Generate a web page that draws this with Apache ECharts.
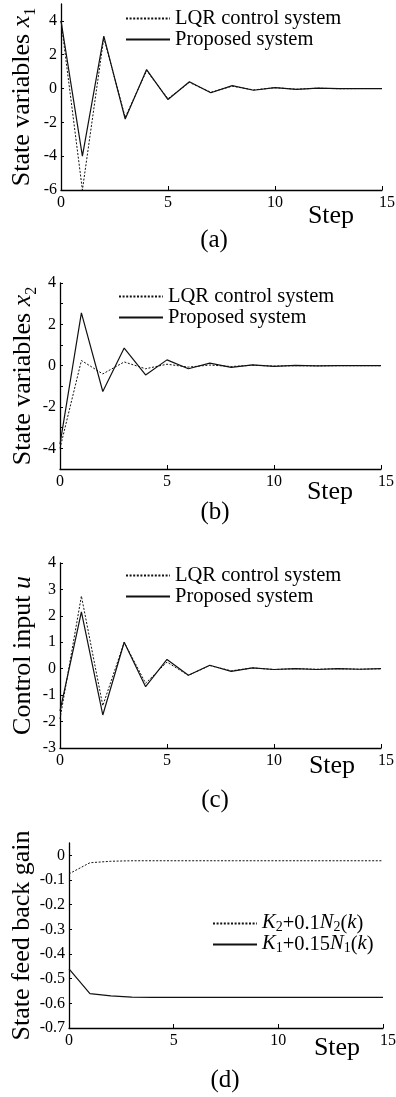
<!DOCTYPE html>
<html>
<head>
<meta charset="utf-8">
<script src="https://cdn.jsdelivr.net/npm/echarts@6/dist/echarts.min.js"></script>
<style>
html,body{margin:0;padding:0;background:#fff;}
#chart{width:396px;height:1097px;}
</style>
</head>
<body>
<div id="chart"></div>
<script>
// ---- data ----
const steps = [0,1,2,3,4,5,6,7,8,9,10,11,12,13,14,15];
const seriesNames = ['LQR control system', 'Proposed system'];
const gainNames = ['K2+0.1N2(k)', 'K1+0.15N1(k)'];

const x1LQR  = [4, -6, 3.0, -1.7, 1.05, -0.6, 0.36, -0.22, 0.14, -0.08, 0.05, -0.04, 0.02, -0.01, 0, 0];
const x1Prop = [4, -4, 3.1, -1.8, 1.12, -0.65, 0.4, -0.25, 0.17, -0.1, 0.06, -0.05, 0.02, -0.01, 0, 0];

const x2LQR  = [-4.0, 0.25, -0.4, 0.18, -0.15, 0.07, -0.07, 0.03, -0.04, 0.02, -0.02, 0, -0.01, 0, 0, 0];
const x2Prop = [-3.8, 2.55, -1.25, 0.85, -0.45, 0.28, -0.15, 0.12, -0.08, 0.04, -0.03, 0.01, -0.01, 0, 0, 0];

const uLQR  = [-1.9, 2.75, -1.4, 1.0, -0.55, 0.25, -0.25, 0.12, -0.08, 0.03, -0.03, 0, -0.02, 0, -0.02, 0];
const uProp = [-1.6, 2.15, -1.75, 1.0, -0.68, 0.35, -0.25, 0.13, -0.1, 0.03, -0.03, 0, -0.03, 0, -0.02, 0];

const gainK2 = [-0.075, -0.03, -0.024, -0.022, -0.022, -0.022, -0.022, -0.022, -0.022, -0.022, -0.022, -0.022, -0.022, -0.022, -0.022, -0.022];
const gainK1 = [-0.46, -0.561, -0.57, -0.575, -0.576, -0.576, -0.576, -0.576, -0.576, -0.576, -0.576, -0.576, -0.576, -0.576, -0.576, -0.576];

const yNames = ['{txt|State variables }{it|x}{sb|1}', '{txt|State variables }{it|x}{sb|2}', '{txt|Control input }{it|u}', '{txt|State feed back gain}'];
const panelLabels = ['(a)', '(b)', '(c)', '(d)'];
const xLabelName = 'Step';

// ---- layout / style ----
const FONT = "'Liberation Serif', 'Times New Roman', serif";
const grids = [
  {left: 61, top: 4, width: 321, height: 186},
  {left: 60, top: 283, width: 321, height: 186},
  {left: 60, top: 563, width: 321, height: 185},
  {left: 69, top: 843, width: 314, height: 185}
];
const yRanges = [
  {min: -6, max: 5, interval: 2, showMax: false, showMin: true, gap: 22},
  {min: -5, max: 4, interval: 1, showMax: true, showMin: false, gap: 20, every2: true},
  {min: -3, max: 4, interval: 1, showMax: true, showMin: true, gap: 20},
  {min: -0.7, max: 0.05, interval: 0.1, showMax: false, showMin: true, gap: 30}
];
const legendPos = [
  {left: 125, top: 8},
  {left: 118, top: 286},
  {left: 125, top: 565},
  {left: 212, top: 913}
];
const stepPos = [[331, 216], [330, 492], [332, 766], [337, 1048]];
const letterPos = [[214, 240], [215, 512], [215, 800], [225, 1080]];

const nameRich = {
  txt: {fontFamily: FONT, fontSize: 26, color: '#000', lineHeight: 30, verticalAlign: 'top'},
  it: {fontFamily: FONT, fontSize: 26, fontStyle: 'italic', color: '#000', lineHeight: 30, verticalAlign: 'top'},
  sb: {fontFamily: FONT, fontSize: 16, color: '#000', lineHeight: 14, verticalAlign: 'bottom'}
};
const legRich = {
  txt: {fontFamily: FONT, fontSize: 20.5, color: '#000', lineHeight: 21, verticalAlign: 'top'},
  it: {fontFamily: FONT, fontSize: 20.5, fontStyle: 'italic', color: '#000', lineHeight: 21, verticalAlign: 'top'},
  sb: {fontFamily: FONT, fontSize: 14, color: '#000', lineHeight: 12, verticalAlign: 'bottom'}
};
const xLabRich = {
  last: {fontFamily: FONT, fontSize: 16, color: '#000', padding: [0, 0, 4, 10]}
};

function gainLabel(name) {
  if (name === gainNames[0]) return '{it|K}{sb|2}{txt|+0.1}{it|N}{sb|2}{txt|(}{it|k}{txt|)}';
  if (name === gainNames[1]) return '{it|K}{sb|1}{txt|+0.15}{it|N}{sb|1}{txt|(}{it|k}{txt|)}';
  return name;
}

const xAxes = grids.map((g, i) => ({
  type: 'value', gridIndex: i, min: 0, max: 15, interval: 5,
  axisLine: {show: true, onZero: false, lineStyle: {color: '#000', width: 1.3}},
  axisTick: {show: true, inside: true, length: 4, lineStyle: {color: '#000'}},
  axisLabel: {
    color: '#000', fontFamily: FONT, fontSize: 16, margin: 5, rich: xLabRich,
    formatter: function (v) { return v === 15 ? '{last|15}' : String(v); }
  },
  splitLine: {show: false}
}));

const yAxes = yRanges.map((r, i) => ({
  type: 'value', gridIndex: i, min: r.min, max: r.max, interval: r.interval,
  name: yNames[i], nameLocation: 'middle', nameGap: r.gap, nameRotate: 90,
  nameMoveOverlap: false,
  nameTextStyle: {fontFamily: FONT, fontSize: 26, color: '#000', rich: nameRich},
  axisLine: {show: true, onZero: false, lineStyle: {color: '#000', width: 1.3}},
  axisTick: {show: true, inside: true, length: 3, lineStyle: {color: '#000'}},
  axisLabel: {
    color: '#000', fontFamily: FONT, fontSize: 16, margin: 4,
    showMaxLabel: r.showMax, showMinLabel: r.showMin,
    formatter: function (v) {
      if (r.every2 && Math.round(v) % 2 !== 0) return '';
      return String(+v.toFixed(2));
    }
  },
  splitLine: {show: false}
}));

const dotted = {color: '#111', width: 1, type: [2, 1.6]};
const solid = {color: '#111', width: 1.2, type: 'solid'};

function pairs(arr) { return steps.map((s, k) => [s, arr[k]]); }

const seriesData = [
  [x1LQR, x1Prop], [x2LQR, x2Prop], [uLQR, uProp], [gainK2, gainK1]
];
const series = [];
seriesData.forEach((pair, i) => {
  const names = i === 3 ? gainNames : seriesNames;
  series.push({type: 'line', name: names[0], xAxisIndex: i, yAxisIndex: i, data: pairs(pair[0]),
    symbol: 'none', color: '#111', lineStyle: dotted, silent: true, animation: false, z: 2});
  series.push({type: 'line', name: names[1], xAxisIndex: i, yAxisIndex: i, data: pairs(pair[1]),
    symbol: 'none', color: '#111', lineStyle: solid, silent: true, animation: false, z: 3});
});

const legends = legendPos.map((p, i) => ({
  left: p.left, top: p.top, orient: 'vertical', padding: 0, itemGap: 0,
  itemWidth: 44, itemHeight: 10, selectedMode: false,
  itemStyle: {opacity: 0},
  data: i === 3 ? gainNames : seriesNames,
  formatter: i === 3 ? gainLabel : function (n) { return '{txt|' + n + '}'; },
  textStyle: {fontFamily: FONT, fontSize: 20.5, color: '#000', padding: [0, 0, 0, 0], rich: legRich}
}));

const graphics = [];
stepPos.forEach(p => graphics.push({type: 'text', silent: true, style: {text: xLabelName, x: p[0], y: p[1], align: 'center', verticalAlign: 'middle', font: '26px "Liberation Serif", serif', fill: '#000'}}));
letterPos.forEach((p, i) => graphics.push({type: 'text', silent: true, style: {text: panelLabels[i], x: p[0], y: p[1], align: 'center', verticalAlign: 'middle', font: '25px "Liberation Serif", serif', fill: '#000'}}));

const chart = echarts.init(document.getElementById('chart'), null, {renderer: 'canvas'});
chart.setOption({
  animation: false,
  backgroundColor: '#fff',
  grid: grids.map(g => Object.assign({containLabel: false, outerBoundsMode: 'none'}, g)),
  xAxis: xAxes,
  yAxis: yAxes,
  legend: legends,
  series: series,
  graphic: graphics
});
</script>
</body>
</html>
